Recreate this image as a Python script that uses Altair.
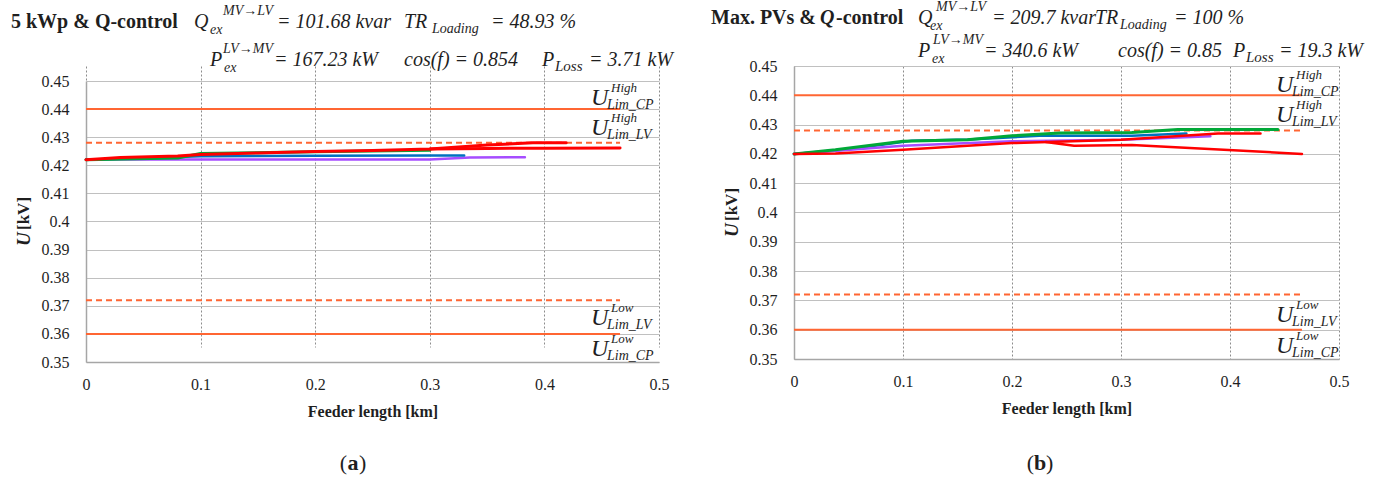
import altair as alt
import pandas as pd

SERIF = "Liberation Serif"
TXT = "#1f1f1f"

# ---------------- data ----------------
X_TICKS = [0, 0.1, 0.2, 0.3, 0.4, 0.5]
Y_TICKS = [0.35, 0.36, 0.37, 0.38, 0.39, 0.40, 0.41, 0.42, 0.43, 0.44, 0.45]

LIM_X = [0, 0.466]
LIM_SOLID = [0.44, 0.36]      # U_Lim_CP high / low
LIM_DASHED = [0.428, 0.372]   # U_Lim_LV high / low

# panel (a) 5 kWp & Q-control
a_red1_x = [0, 0.03, 0.08, 0.1, 0.15, 0.2, 0.25, 0.3, 0.35, 0.39, 0.419]
a_red1_y = [0.422, 0.4228, 0.4233, 0.4238, 0.4244, 0.4249, 0.4253, 0.4258, 0.4272, 0.428, 0.428]
a_red2_x = [0.3, 0.35, 0.4, 0.466]
a_red2_y = [0.4258, 0.426, 0.4261, 0.4262]
a_green_x = [0, 0.08, 0.1, 0.2, 0.3]
a_green_y = [0.422, 0.4226, 0.4242, 0.4248, 0.4254]
a_blue_x = [0, 0.1, 0.2, 0.3, 0.33]
a_blue_y = [0.422, 0.4232, 0.4234, 0.4235, 0.4235]
a_purple_x = [0, 0.3, 0.335, 0.383]
a_purple_y = [0.4221, 0.4221, 0.4228, 0.4229]

# panel (b) Max. PVs & Q-control
b_blue_x = [0, 0.05, 0.108, 0.16, 0.225, 0.31, 0.36]
b_blue_y = [0.42, 0.4216, 0.4245, 0.4249, 0.4262, 0.4262, 0.427]
b_purple_x = [0, 0.1, 0.2, 0.3, 0.382]
b_purple_y = [0.42, 0.4228, 0.4243, 0.4248, 0.426]
b_green_x = [0, 0.038, 0.1, 0.159, 0.2, 0.244, 0.31, 0.352, 0.444]
b_green_y = [0.42, 0.4214, 0.4243, 0.4248, 0.4262, 0.4271, 0.4273, 0.4283, 0.4283]
b_red1_x = [0, 0.038, 0.1, 0.2, 0.3, 0.389, 0.428]
b_red1_y = [0.42, 0.4201, 0.4214, 0.4237, 0.4248, 0.427, 0.427]
b_red2_x = [0.231, 0.257, 0.31, 0.466]
b_red2_y = [0.4241, 0.4228, 0.423, 0.42]

ORANGE = "#FF6633"
RED = "#FF0000"
GREEN = "#00A838"
BLUE = "#0070C0"
PURPLE = "#A64DFF"

ONE = pd.DataFrame({"k": [0]})

X_AXIS = alt.Axis(values=X_TICKS, format=".1~f", grid=True, gridColor="#8c8c8c",
                  gridDash=[2, 2], gridWidth=1, domainColor="#a6a6a6", domainWidth=1.5,
                  ticks=False, tickSize=0, labelFont=SERIF, labelFontSize=16,
                  labelColor=TXT, labelPadding=14, labelFlush=False, labelOverlap=False,
                  title="Feeder length [km]", titleFont=SERIF, titleFontSize=16,
                  titleFontWeight="bold", titleColor=TXT, titleBaseline="alphabetic",
                  titleY=54)
Y_AXIS = alt.Axis(values=Y_TICKS, format=".2~f", grid=True, gridColor="#c0c0c0",
                  gridWidth=1, domainColor="#a6a6a6", domainWidth=1.5, ticks=False,
                  tickSize=0, labelFont=SERIF, labelFontSize=16, labelColor=TXT,
                  labelPadding=17, labelFlush=False, labelOverlap=False, title=None)


def txt(s, x, y, size, ox, oy, style="normal", weight="normal", align="left",
        baseline="alphabetic", angle=0):
    return alt.Chart(ONE).mark_text(
        text=s, font=SERIF, fontSize=size, fontStyle=style, fontWeight=weight,
        align=align, baseline=baseline, angle=angle, color=TXT
    ).encode(x=alt.value(x - ox), y=alt.value(y - oy))


def panel(series, ox, oy, yrange, texts, ulab, ux, usup, usub, ytitle_x, ytitle_y):
    xs = alt.Scale(domain=[0, 0.5], nice=False, zero=False)
    if yrange is None:
        ys = alt.Scale(domain=[0.35, 0.45], nice=False, zero=False)
    else:
        ys = alt.Scale(domain=[0.35, 0.45], nice=False, zero=False, range=yrange)
    X = alt.X("x:Q", scale=xs, axis=X_AXIS)
    Y = alt.Y("y:Q", scale=ys, axis=Y_AXIS)
    layers = []
    lim_s = pd.DataFrame({"x": LIM_X[0], "x2": LIM_X[1], "y": LIM_SOLID})
    lim_d = pd.DataFrame({"x": LIM_X[0], "x2": LIM_X[1], "y": LIM_DASHED})
    layers.append(alt.Chart(lim_s).mark_rule(color=ORANGE, strokeWidth=2).encode(
        x=X, x2="x2:Q", y=Y))
    layers.append(alt.Chart(lim_d).mark_rule(color=ORANGE, strokeWidth=2, strokeDash=[6, 4]).encode(
        x=X, x2="x2:Q", y=Y))
    for xv, yv, col, w in series:
        df = pd.DataFrame({"x": xv, "y": yv})
        layers.append(alt.Chart(df).mark_line(color=col, strokeWidth=w, strokeJoin="round",
                                              strokeCap="round").encode(x=X, y=Y))
    for t in texts:
        layers.append(txt(t[0], t[1], t[2], t[3], ox, oy, style=t[4], weight=t[5],
                          align=t[6] if len(t) > 6 else "left"))
    for (sup, sub, by) in ulab:
        layers.append(txt("U", ux, by, 24, ox, oy, style="italic"))
        layers.append(txt(sup, usup, by - 13, 13, ox, oy, style="italic"))
        layers.append(txt(sub, usub, by + 4, 14, ox, oy, style="italic"))
    layers.append(txt("U", ytitle_x, ytitle_y, 19, ox, oy, style="italic", weight="bold",
                      baseline="middle", angle=270))
    layers.append(txt("[kV]", ytitle_x, ytitle_y - 16, 17, ox, oy, weight="bold",
                      baseline="middle", angle=270))
    return layers


# ---------------- panel (a) ----------------
OXA, OYA = 86, 66
texts_a = [
    ("5 kWp & Q-control", 11, 28, 20, "normal", "bold"),
    ("Q", 194, 28, 20, "italic", "normal"),
    ("MV→LV", 223, 15, 14, "italic", "normal"),
    ("ex", 210, 34, 14, "italic", "normal"),
    ("= 101.68 kvar", 277, 28, 20, "italic", "normal"),
    ("TR", 404, 28, 20, "italic", "normal"),
    ("Loading", 432, 33, 14, "italic", "normal"),
    ("= 48.93 %", 491, 28, 20, "italic", "normal"),
    ("P", 210, 66, 20, "italic", "normal"),
    ("LV→MV", 223, 53, 14, "italic", "normal"),
    ("ex", 224, 72, 14, "italic", "normal"),
    ("= 167.23 kW", 274, 66, 20, "italic", "normal"),
    ("cos(f) = 0.854", 404, 66, 20, "italic", "normal"),
    ("P", 542, 66, 20, "italic", "normal"),
    ("Loss", 555, 71, 15, "italic", "normal"),
    ("= 3.71 kW", 589, 66, 20, "italic", "normal"),
    ("(", 347, 470, 22, "normal", "normal", "right"),
    ("a", 353, 470, 22, "normal", "bold", "center"),
    (")", 359, 470, 22, "normal", "normal", "left"),
]
ulab_a = [("High", "Lim_CP", 105), ("High", "Lim_LV", 135),
          ("Low", "Lim_LV", 325), ("Low", "Lim_CP", 356)]
series_a = [
    (a_purple_x, a_purple_y, PURPLE, 2.5),
    (a_blue_x, a_blue_y, BLUE, 2.5),
    (a_green_x, a_green_y, GREEN, 3),
    (a_red2_x, a_red2_y, RED, 3),
    (a_red1_x, a_red1_y, RED, 3),
]
layers_a = panel(series_a, OXA, OYA, [296, 15], texts_a, ulab_a, 591, 611, 607, 24, 246)
layers_a.append(alt.Chart(ONE).mark_rule(strokeOpacity=0, strokeWidth=0.001).encode(
    x=alt.value(-OXA), y=alt.value(-OYA), x2=alt.value(1376 - OXA), y2=alt.value(478 - OYA)))
left = alt.layer(*layers_a).properties(width=573, height=296)

# ---------------- panel (b) ----------------
OXB, OYB = 794, 66
texts_b = [
    ("Max. PVs &", 711, 24, 20, "normal", "bold"),
    ("Q", 820, 24, 20, "italic", "bold"),
    ("-control", 836, 24, 20, "normal", "bold"),
    ("Q", 918, 24, 20, "italic", "normal"),
    ("MV→LV", 936, 11, 14, "italic", "normal"),
    ("ex", 930, 30, 14, "italic", "normal"),
    ("= 209.7 kvar", 992, 24, 20, "italic", "normal"),
    ("TR", 1095, 24, 20, "italic", "normal"),
    ("Loading", 1120, 29, 14, "italic", "normal"),
    ("= 100 %", 1174, 24, 20, "italic", "normal"),
    ("P", 918, 57, 20, "italic", "normal"),
    ("LV→MV", 933, 44, 14, "italic", "normal"),
    ("ex", 932, 63, 14, "italic", "normal"),
    ("= 340.6 kW", 984, 57, 20, "italic", "normal"),
    ("cos(f) = 0.85", 1118, 57, 20, "italic", "normal"),
    ("P", 1233, 57, 20, "italic", "normal"),
    ("Loss", 1246, 62, 15, "italic", "normal"),
    ("= 19.3 kW", 1279, 57, 20, "italic", "normal"),
    ("(", 1034, 470, 22, "normal", "normal", "right"),
    ("b", 1040, 470, 22, "normal", "bold", "center"),
    (")", 1046, 470, 22, "normal", "normal", "left"),
]
ulab_b = [("High", "Lim_CP", 92), ("High", "Lim_LV", 122),
          ("Low", "Lim_LV", 322), ("Low", "Lim_CP", 353)]
series_b = [
    (b_blue_x, b_blue_y, BLUE, 2.5),
    (b_purple_x, b_purple_y, PURPLE, 2.5),
    (b_green_x, b_green_y, GREEN, 3),
    (b_red2_x, b_red2_y, RED, 2.5),
    (b_red1_x, b_red1_y, RED, 2.5),
]
layers_b = panel(series_b, OXB, OYB, None, texts_b, ulab_b, 1276, 1296, 1292, 732, 237)
right = alt.layer(*layers_b).properties(width=545, height=293)

chart = alt.hconcat(left, right, spacing=135, bounds="flush").properties(
    padding=0, background="white"
).configure_view(stroke=None)

chart.save("out.html", embed_options={"renderer": "svg", "actions": False})
